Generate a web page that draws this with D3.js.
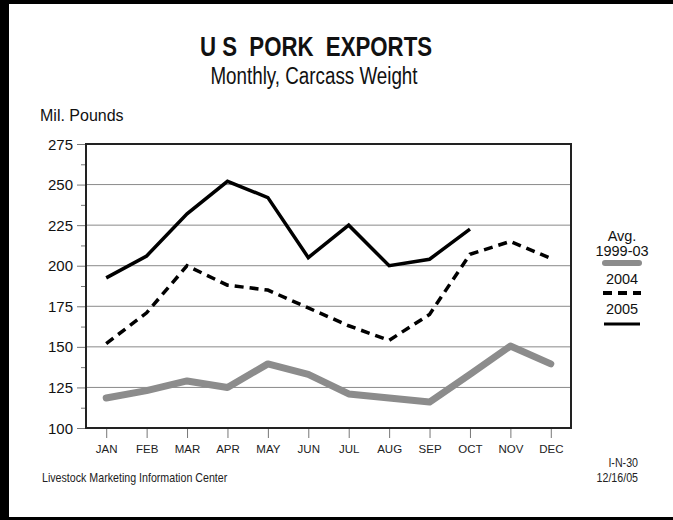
<!DOCTYPE html>
<html>
<head>
<meta charset="utf-8">
<script src="https://cdn.jsdelivr.net/npm/d3@7"></script>
<style>
  html, body { margin: 0; padding: 0; background: #fff; }
  svg { display: block; font-family: "Liberation Sans", Arial, sans-serif; }
</style>
</head>
<body>
<div class="viz"></div>
<script>
// monthly pork exports, million pounds carcass weight
const months = ['JAN', 'FEB', 'MAR', 'APR', 'MAY', 'JUN', 'JUL', 'AUG', 'SEP', 'OCT', 'NOV', 'DEC'];
const avg9903 = [118.5, 123, 129, 125, 139.5, 133, 121, 118.5, 116, 133, 150.5, 139.5];
const y2004 = [152, 171, 200, 188, 185, 174, 163, 154, 170, 207, 215, 204.5];
const y2005 = [192.5, 206, 232, 252, 242, 205, 225, 200, 204, 222.5];
const yTicks = [100, 125, 150, 175, 200, 225, 250, 275];
const yMinorTicks = [112.5, 137.5, 162.5, 187.5, 212.5, 237.5, 262.5];

const W = 673;
const H = 520;
const plot = { left: 86, right: 571, top: 144, bottom: 428 };

const svg = d3.select('.viz')
  .append('svg')
  .attr('width', W)
  .attr('height', H);

svg.append('rect').attr('width', W).attr('height', H).attr('fill', '#fff');

// thick black frame around the slide (left/top heavier)
svg.append('rect').attr('x', 0).attr('y', 0).attr('width', 9).attr('height', H).attr('fill', '#000');
svg.append('rect').attr('x', 0).attr('y', 0).attr('width', W).attr('height', 4).attr('fill', '#000');
svg.append('rect').attr('x', 0).attr('y', H - 3).attr('width', W).attr('height', 3).attr('fill', '#000');

// text helper, sx squeezes the glyphs horizontally to mimic a narrow face
function label(x, y, text, size, opts = {}) {
  const sx = opts.sx || 1;
  return svg.append('text')
    .attr('transform', `translate(${x} ${y}) scale(${sx} 1)`)
    .attr('text-anchor', opts.anchor || 'start')
    .attr('font-size', size)
    .attr('font-weight', opts.weight || 'normal')
    .attr('fill', opts.fill || '#111')
    .style('white-space', 'pre')
    .text(text);
}

label(316, 56, 'U S  PORK  EXPORTS', 28.5, { anchor: 'middle', weight: 'bold', sx: 0.78 });
label(314, 84, 'Monthly, Carcass Weight', 23.5, { anchor: 'middle', sx: 0.8 });
label(40, 121, 'Mil. Pounds', 16);

const xScale = d3.scalePoint()
  .domain(months)
  .range([plot.left, plot.right])
  .padding(0.5);

const yScale = d3.scaleLinear()
  .domain([100, 275])
  .range([plot.bottom, plot.top]);

// grid lines
svg.append('g')
  .selectAll('line')
  .data(yTicks.slice(1, -1))
  .enter()
  .append('line')
  .attr('x1', plot.left)
  .attr('x2', plot.right)
  .attr('y1', d => yScale(d))
  .attr('y2', d => yScale(d))
  .attr('stroke', '#8a8a8a')
  .attr('stroke-width', 1);

// y axis, major and minor ticks
const yAxis = svg.append('g')
  .attr('class', 'axis y-axis')
  .attr('transform', `translate(${plot.left} 0)`)
  .call(d3.axisLeft(yScale).tickValues(yTicks).tickSize(9).tickPadding(4).tickFormat(d3.format('d')));

svg.append('g')
  .attr('class', 'axis y-minor')
  .attr('transform', `translate(${plot.left} 0)`)
  .call(d3.axisLeft(yScale).tickValues(yMinorTicks).tickSize(5).tickFormat(''));

yAxis.selectAll('text')
  .attr('font-size', 15)
  .attr('fill', '#111')
  .attr('dy', '0.34em');

// x axis, ticks hang slightly below the frame
const xAxis = svg.append('g')
  .attr('class', 'axis x-axis')
  .attr('transform', `translate(0 ${plot.bottom + 1})`)
  .call(d3.axisBottom(xScale).tickSize(9).tickPadding(7));

xAxis.selectAll('text')
  .attr('font-size', 11.5)
  .attr('fill', '#222');

d3.selectAll('.axis').selectAll('path.domain').remove();
d3.selectAll('.axis').selectAll('line').attr('stroke', '#777');
d3.selectAll('.axis').attr('font-family', null);

// series lines
const line = d3.line()
  .x((d, i) => xScale(months[i]))
  .y(d => yScale(d));

svg.append('path')
  .attr('d', line(avg9903))
  .attr('fill', 'none')
  .attr('stroke', '#8c8c8c')
  .attr('stroke-width', 7)
  .attr('stroke-linejoin', 'round')
  .attr('stroke-linecap', 'round');

svg.append('path')
  .attr('d', line(y2004))
  .attr('fill', 'none')
  .attr('stroke', '#000')
  .attr('stroke-width', 3.5)
  .attr('stroke-dasharray', '9 6');

svg.append('path')
  .attr('d', line(y2005))
  .attr('fill', 'none')
  .attr('stroke', '#000')
  .attr('stroke-width', 3.5)
  .attr('stroke-linejoin', 'miter');

// plot frame
svg.append('rect')
  .attr('x', plot.left)
  .attr('y', plot.top)
  .attr('width', plot.right - plot.left)
  .attr('height', plot.bottom - plot.top)
  .attr('fill', 'none')
  .attr('stroke', '#222')
  .attr('stroke-width', 2);

// legend
const lx = 622;
label(lx, 241, 'Avg.', 14.5, { anchor: 'middle' });
label(lx, 256, '1999-03', 14.5, { anchor: 'middle' });
svg.append('line')
  .attr('x1', lx - 17).attr('x2', lx + 17).attr('y1', 263).attr('y2', 263)
  .attr('stroke', '#8c8c8c').attr('stroke-width', 6).attr('stroke-linecap', 'round');
label(lx, 284, '2004', 14.5, { anchor: 'middle' });
svg.append('line')
  .attr('x1', lx - 19).attr('x2', lx + 19).attr('y1', 293).attr('y2', 293)
  .attr('stroke', '#000').attr('stroke-width', 4).attr('stroke-dasharray', '9 6');
label(lx, 314, '2005', 14.5, { anchor: 'middle' });
svg.append('line')
  .attr('x1', lx - 18).attr('x2', lx + 18).attr('y1', 324).attr('y2', 324)
  .attr('stroke', '#000').attr('stroke-width', 3);

// footer
label(42, 482, 'Livestock Marketing Information Center', 13, { sx: 0.82, fill: '#222' });
label(638, 467, 'I-N-30', 13, { anchor: 'end', sx: 0.82, fill: '#222' });
label(638, 482, '12/16/05', 13, { anchor: 'end', sx: 0.82, fill: '#222' });
</script>
</body>
</html>
